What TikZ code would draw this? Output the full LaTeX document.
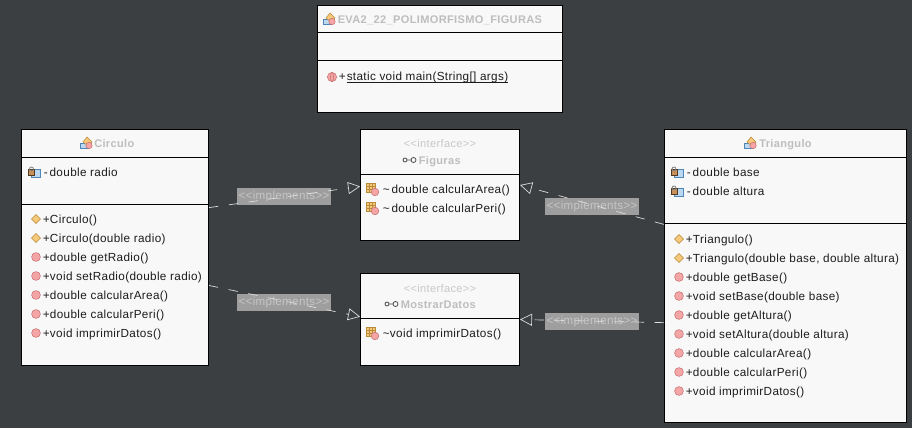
\documentclass[tikz,border=0pt]{standalone}
\usepackage{fontspec}
\setmainfont[LetterSpace=3]{Liberation Sans}
\usetikzlibrary{arrows.meta}

\definecolor{bgdark}{HTML}{3C3F41}
\definecolor{boxfill}{HTML}{F8F8F8}
\definecolor{titlegrey}{HTML}{BEBEBE}
\definecolor{stereogrey}{HTML}{C8C8C8}
\definecolor{labelfill}{HTML}{9E9E9E}
\definecolor{labeltext}{HTML}{C6C6C6}
\definecolor{linegrey}{HTML}{E0E0E0}
\definecolor{membertext}{HTML}{1C1C1C}
\definecolor{pinkfill}{HTML}{F4A5A5}
\definecolor{pinkline}{HTML}{C87070}
\definecolor{orangefill}{HTML}{F6C87A}
\definecolor{orangeline}{HTML}{B88A3C}
\definecolor{bluefill}{HTML}{BBD8F0}
\definecolor{blueline}{HTML}{4F86B8}
\definecolor{lockfill}{HTML}{C89058}

\newcommand{\px}{0.75pt}

\tikzset{
    classbox/.style={draw=black, fill=boxfill, line width=0.75pt, rectangle, inner sep=0pt},
    divider/.style={black, line width=0.75pt},
    rowtext/.style={inner sep=0pt, text height=6.5pt, text depth=2pt, yshift=-1.1pt},
    member/.style={rowtext, anchor=west, text=membertext, font=\fontsize{8.8pt}{10pt}\selectfont},
    titletext/.style={rowtext, anchor=west, text=titlegrey, font=\bfseries\fontsize{8.3pt}{10pt}\selectfont},
    stereotext/.style={rowtext, text=stereogrey, font=\fontsize{8.3pt}{10pt}\selectfont},
    implabel/.style={fill=labelfill, text=labeltext, inner sep=0pt, minimum width=94*\px, minimum height=17*\px, font=\fontsize{8.7pt}{10pt}\selectfont},
    implink/.style={linegrey, line width=0.5pt, dash pattern=on 7pt off 8pt, -{Triangle[open, length=9pt, width=9pt]}},
    iconmethod/.pic={
        \draw[pinkline, fill=pinkfill, line width=0.4pt] (0,0) circle (4.4);
    },
    iconstatic/.pic={
        \draw[pinkline, fill=pinkfill, line width=0.4pt] (0,0) circle (4.6);
        \draw[pinkline, line width=0.4pt] (0,0) ellipse (1.6 and 4.6);
    },
    iconctor/.pic={
        \draw[orangeline, fill=orangefill, line width=0.4pt] (-4.5,0) -- (0,-4.5) -- (4.5,0) -- (0,4.5) -- cycle;
    },
    iconattr/.pic={
        \draw[blueline, fill=bluefill, line width=0.4pt] (-3,-3) rectangle (6,5);
        \draw[black!60!lockfill, fill=lockfill, line width=0.4pt] (-6,-3) rectangle (0,3);
        \draw[black!50, line width=0.6pt] (-3,-3) circle (2);
    },
    iconpack/.pic={
        \draw[orangeline, fill=orangefill, line width=0.4pt] (-6,-6) rectangle (3,3);
        \draw[orangeline, line width=0.4pt] (-3,-6) -- (-3,3) (0,-6) -- (0,3) (-6,-3) -- (3,-3) (-6,0) -- (3,0);
        \draw[pinkline, fill=pinkfill, line width=0.4pt] (3,3) circle (3.8);
    },
    iconclass/.pic={
        \draw[blueline, fill=bluefill, line width=0.4pt] (-6,0) rectangle (2,5);
        \draw[orangeline, fill=orangefill, line width=0.4pt] (-3,-1) -- (1,-6) -- (6,-1) -- (2,3) -- cycle;
        \draw[pinkline, fill=pinkfill, line width=0.4pt] (3,2.5) circle (3.2);
    },
    iconiface/.pic={
        \draw[black!70, line width=0.6pt] (-4.5,0) circle (2) (4,0) circle (2.5) (-2.5,0) -- (1.5,0);
    }
}

\begin{document}
\begin{tikzpicture}[x=\px, y=-\px]
    \useasboundingbox (0, 0) rectangle (912, 428);
    \fill[bgdark] (0, 0) rectangle (912, 428);

    \node[classbox, minimum width=245*\px, minimum height=107*\px] (Main) at (440, 59) {};
    \node[classbox, minimum width=187*\px, minimum height=236*\px] (Circulo) at (115, 247.5) {};
    \node[classbox, minimum width=159*\px, minimum height=111*\px] (Figuras) at (440, 185) {};
    \node[classbox, minimum width=159*\px, minimum height=92*\px] (Mostrar) at (440, 319.5) {};
    \node[classbox, minimum width=242*\px, minimum height=293*\px] (Triangulo) at (785.5, 276) {};

    \draw[divider] (317.5, 33) -- (562.5, 33);
    \draw[divider] (317.5, 61) -- (562.5, 61);
    \draw[divider] (21.5, 157) -- (208.5, 157);
    \draw[divider] (21.5, 204) -- (208.5, 204);
    \draw[divider] (360.5, 174) -- (519.5, 174);
    \draw[divider] (360.5, 318) -- (519.5, 318);
    \draw[divider] (664.5, 157) -- (906.5, 157);
    \draw[divider] (664.5, 223) -- (906.5, 223);

    \pic at (329, 19) {iconclass};
    \node[titletext] (MainTitle) at (337.5, 19) {EVA2\_22\_POLIMORFISMO\_FIGURAS};
    \pic at (332, 77) {iconstatic};
    \node[member] (MainPlus) at (338.5, 76.5) {+};
    \node[member] (MainMethod) at (346.5, 76.5) {static void main(String[] args)};
    \draw[membertext, line width=0.6pt] ([yshift=-0.9pt]MainMethod.base west) -- ([yshift=-0.9pt]MainMethod.base east);

    \pic at (86, 143) {iconclass};
    \node[titletext] (CirculoTitle) at (94, 143) {Circulo};
    \pic at (34.5, 172) {iconattr};
    \node[member] (CirculoAttr) at (43.5, 172) {-\,double radio};
    \foreach \y/\txt/\icn [count=\i] in {
        219/{Circulo()}/iconctor,
        238/{Circulo(double radio)}/iconctor,
        257/{double getRadio()}/iconmethod,
        276/{void setRadio(double radio)}/iconmethod,
        295/{double calcularArea()}/iconmethod,
        314/{double calcularPeri()}/iconmethod,
        333/{void imprimirDatos()}/iconmethod%
    } {
        \pic at (36, \y) {\icn};
        \node[member] (CirculoM\i) at (42.5, \y) {+\txt};
    }

    \node[stereotext] (FigurasStereo) at (440, 143) {<{}<interface>{}>};
    \pic at (409.5, 160) {iconiface};
    \node[titletext] (FigurasTitle) at (418.5, 160) {Figuras};
    \foreach \y/\txt [count=\i] in {
        189/{double calcularArea()},
        208/{double calcularPeri()}%
    } {
        \pic at (372, \y) {iconpack};
        \node[member] (FigurasM\i) at (382.5, \y) {\textasciitilde\,\txt};
    }

    \node[stereotext] (MostrarStereo) at (440, 288) {<{}<interface>{}>};
    \pic at (391.5, 304) {iconiface};
    \node[titletext] (MostrarTitle) at (400.5, 304) {MostrarDatos};
    \pic at (372, 333) {iconpack};
    \node[member] (MostrarM1) at (382.5, 333) {\textasciitilde void imprimirDatos()};

    \pic at (750, 143) {iconclass};
    \node[titletext] (TrianguloTitle) at (759, 143) {Triangulo};
    \foreach \y/\txt [count=\i] in {
        172/{double base},
        191/{double altura}%
    } {
        \pic at (677, \y) {iconattr};
        \node[member] (TrianguloAttr\i) at (686.5, \y) {-\,\txt};
    }
    \foreach \y/\txt/\icn [count=\i] in {
        239/{Triangulo()}/iconctor,
        258/{Triangulo(double base, double altura)}/iconctor,
        277/{double getBase()}/iconmethod,
        296/{void setBase(double base)}/iconmethod,
        315/{double getAltura()}/iconmethod,
        334/{void setAltura(double altura)}/iconmethod,
        353/{double calcularArea()}/iconmethod,
        372/{double calcularPeri()}/iconmethod,
        391/{void imprimirDatos()}/iconmethod%
    } {
        \pic at (679, \y) {\icn};
        \node[member] (TrianguloM\i) at (685.5, \y) {+\txt};
    }

    \node[implabel] (LabelA) at (284, 196.5) {<{}<implements>{}>};
    \node[implabel] (LabelB) at (284, 302.5) {<{}<implements>{}>};
    \node[implabel] (LabelC) at (592, 206.5) {<{}<implements>{}>};
    \node[implabel] (LabelD) at (592, 321.5) {<{}<implements>{}>};

    \draw[implink] (Circulo.23.5) -- (Figuras.181.4);
    \draw[implink] (Circulo.-22.5) -- (Mostrar.178.9);
    \draw[implink] (Triangulo.157.9) -- (Figuras.-0.7);
    \draw[implink] (Triangulo.201.7) -- (Mostrar.0.4);
\end{tikzpicture}
\end{document}
